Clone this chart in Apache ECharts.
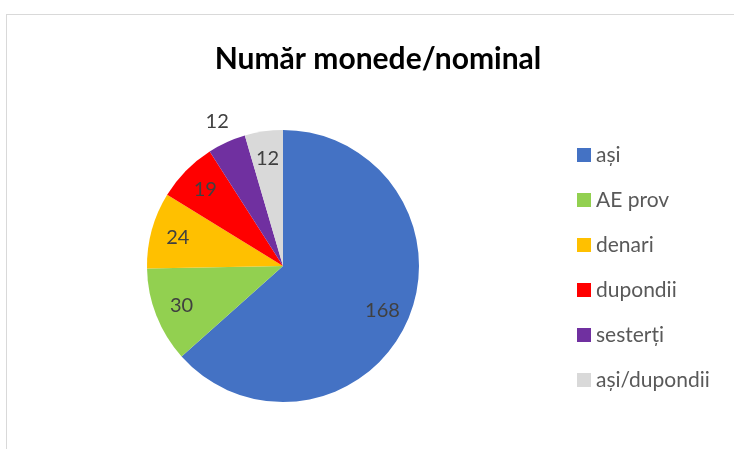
<!DOCTYPE html>
<html>
<head>
<meta charset="utf-8">
<script src="https://cdn.jsdelivr.net/npm/echarts@6/dist/echarts.min.js"></script>
<style>
  html, body { margin: 0; padding: 0; background: #fff; overflow: hidden; }
  #frame { position: absolute; left: 6px; top: 14px; width: 900px; height: 600px;
           border-left: 1px solid #d9d9d9; border-top: 1px solid #d9d9d9; }
  #main { position: absolute; left: 0; top: 0; width: 734px; height: 449px; }
</style>
</head>
<body>
<div id="frame"></div>
<div id="main"></div>
<script>
var chartDom = document.getElementById('main');
var myChart = echarts.init(chartDom);

// data
var categories = ['ași', 'AE prov', 'denari', 'dupondii', 'sesterți', 'ași/dupondii'];
var values = [168, 30, 24, 19, 12, 12];
var colors = ['#4472C4', '#92D050', '#FFC000', '#FF0000', '#7030A0', '#D9D9D9'];
var outsideLabels = ['sesterți'];

var fontName = 'Lato';
var center = [283, 266];

var pieData = categories.map(function (name, i) {
    return { name: name, value: values[i], itemStyle: { color: colors[i] } };
});

// label carriers (transparent rings) so labels sit near the rim like the original
var innerLabelData = categories.map(function (name, i) {
    return {
        name: name, value: values[i],
        label: { show: outsideLabels.indexOf(name) < 0 }
    };
});
var outerLabelData = categories.map(function (name, i) {
    return {
        name: name, value: values[i],
        label: { show: outsideLabels.indexOf(name) >= 0 }
    };
});

var labelCommon = {
    position: 'inside',
    formatter: '{c}',
    color: '#404040',
    fontFamily: fontName,
    fontSize: 20
};

var option = {
    animation: false,
    title: {
        text: 'Număr monede/nominal',
        left: 373,
        textAlign: 'center',
        top: 39,
        textStyle: { fontFamily: fontName, fontWeight: 'bold', fontSize: 30, color: '#000' }
    },
    legend: {
        orient: 'vertical',
        left: 572,
        top: 139,
        itemWidth: 14,
        itemHeight: 14,
        itemGap: 23,
        icon: 'rect',
        data: categories,
        textStyle: { fontFamily: fontName, fontSize: 21, color: '#595959', lineHeight: 22 }
    },
    series: [
        {
            type: 'pie',
            center: center,
            radius: [0, 136],
            startAngle: 90,
            clockwise: true,
            data: pieData,
            label: { show: false },
            labelLine: { show: false },
            emphasis: { disabled: true }
        },
        {
            type: 'pie',
            center: center,
            radius: [76, 136],
            startAngle: 90,
            clockwise: true,
            silent: true,
            data: innerLabelData,
            itemStyle: { color: 'rgba(0,0,0,0)' },
            label: labelCommon,
            labelLine: { show: false },
            emphasis: { disabled: true }
        },
        {
            type: 'pie',
            center: center,
            radius: [136, 176],
            startAngle: 90,
            clockwise: true,
            silent: true,
            data: outerLabelData,
            itemStyle: { color: 'rgba(0,0,0,0)' },
            label: labelCommon,
            labelLine: { show: false },
            emphasis: { disabled: true }
        }
    ]
};

myChart.setOption(option);
</script>
</body>
</html>
